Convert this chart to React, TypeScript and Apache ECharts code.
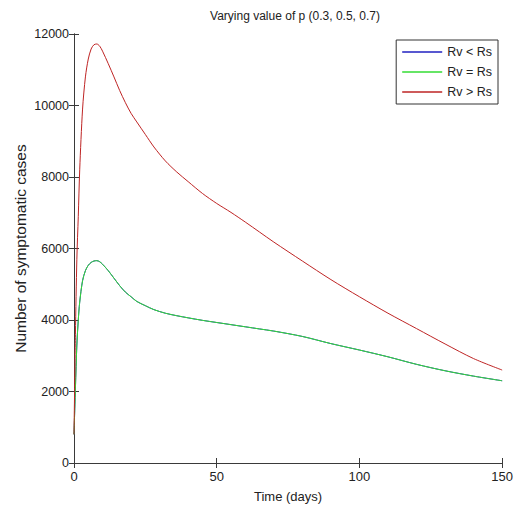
import React, { useEffect, useRef } from "react";
import * as echarts from "echarts";

const days = [0, 0.5, 1, 1.5, 2, 3, 4, 5, 6, 7, 8, 9, 10, 12, 14, 16, 18, 20, 22, 25, 28, 32, 36, 40, 45, 50, 55, 60, 65, 70, 80, 90, 100, 110, 120, 130, 140, 150];
const rvLessRs = [800, 2100, 3300, 4000, 4500, 5100, 5380, 5530, 5610, 5650, 5660, 5630, 5560, 5380, 5170, 4960, 4780, 4650, 4520, 4400, 4290, 4190, 4120, 4060, 3990, 3930, 3870, 3810, 3750, 3690, 3540, 3340, 3160, 2970, 2760, 2580, 2430, 2300];
const rvEqualRs = [800, 2100, 3300, 4000, 4500, 5100, 5380, 5530, 5610, 5650, 5660, 5630, 5560, 5380, 5170, 4960, 4780, 4650, 4520, 4400, 4290, 4190, 4120, 4060, 3990, 3930, 3870, 3810, 3750, 3690, 3540, 3340, 3160, 2970, 2760, 2580, 2430, 2300];
const rvGreaterRs = [800, 3600, 5700, 6900, 8200, 9900, 10800, 11300, 11580, 11700, 11720, 11660, 11520, 11170, 10800, 10420, 10080, 9780, 9540, 9190, 8840, 8450, 8140, 7870, 7540, 7260, 7010, 6740, 6460, 6180, 5650, 5130, 4650, 4190, 3760, 3330, 2920, 2600];

const seriesNames = ["Rv < Rs", "Rv = Rs", "Rv > Rs"];
const seriesColors = ["#2020c0", "#33dd33", "#be2424"];
const title = "Varying value of p (0.3, 0.5, 0.7)";
const xName = "Time (days)";
const yName = "Number of symptomatic cases";

const FONT = "'Liberation Sans', Arial, Helvetica, sans-serif";

export default function App() {
  const ref = useRef<HTMLDivElement>(null);
  useEffect(() => {
    if (!ref.current) return;
    const chart = echarts.init(ref.current, null, { renderer: "svg" });
    const all = [rvLessRs, rvEqualRs, rvGreaterRs];
    const axisLine = { show: true, lineStyle: { color: "#3a3a3a", width: 1 } };
    const tick = { show: true, inside: true, length: 5, lineStyle: { color: "#3a3a3a" } };
    chart.setOption({
      animation: false,
      backgroundColor: "#ffffff",
      title: {
        text: title,
        left: 290,
        textAlign: "center",
        top: 5,
        textStyle: { fontFamily: FONT, fontSize: 12, fontWeight: "normal", color: "#222" },
      },
      grid: { left: 74, right: 12, top: 34, bottom: 53, containLabel: false },
      legend: {
        orient: "vertical",
        right: 18,
        top: 40,
        data: seriesNames,
        icon: "rect",
        itemWidth: 40,
        itemHeight: 1.5,
        itemGap: 6,
        padding: [5, 6, 5, 6],
        borderColor: "#333",
        borderWidth: 1,
        backgroundColor: "#fff",
        textStyle: { fontFamily: FONT, fontSize: 12.5, color: "#222", lineHeight: 14 },
      },
      xAxis: [
        {
          type: "value",
          min: 0,
          max: 150,
          interval: 50,
          name: xName,
          nameLocation: "middle",
          nameGap: 27,
          nameMoveOverlap: false,
          nameTextStyle: { fontFamily: FONT, fontSize: 13, color: "#222" },
          axisLine,
          axisTick: tick,
          splitLine: { show: false },
          axisLabel: { fontFamily: FONT, fontSize: 13, color: "#222", margin: 7 },
        },
        {
          type: "value",
          position: "top",
          min: 0,
          max: 150,
          interval: 50,
          axisLine,
          axisTick: tick,
          splitLine: { show: false },
          axisLabel: { show: false },
        },
      ],
      yAxis: [
        {
          type: "value",
          min: 0,
          max: 12000,
          interval: 2000,
          name: yName,
          nameLocation: "middle",
          nameGap: 46,
          nameMoveOverlap: false,
          nameTextStyle: { fontFamily: FONT, fontSize: 15.5, color: "#222" },
          axisLine,
          axisTick: tick,
          splitLine: { show: false },
          axisLabel: {
            fontFamily: FONT,
            fontSize: 12.5,
            color: "#222",
            margin: 5,
            formatter: (v: number) => String(v),
          },
        },
        {
          type: "value",
          position: "right",
          min: 0,
          max: 12000,
          interval: 2000,
          axisLine,
          axisTick: tick,
          splitLine: { show: false },
          axisLabel: { show: false },
        },
      ],
      series: all.map((vals, i) => ({
        name: seriesNames[i],
        type: "line",
        xAxisIndex: 0,
        yAxisIndex: 0,
        data: days.map((d, j) => [d, vals[j]]),
        symbol: "none",
        smooth: 0.3,
        color: seriesColors[i],
        lineStyle: { width: 1, color: seriesColors[i] },
      })),
    });
    return () => chart.dispose();
  }, []);
  return <div ref={ref} style={{ width: 516, height: 516, position: "absolute", left: 0, top: 0 }} />;
}
